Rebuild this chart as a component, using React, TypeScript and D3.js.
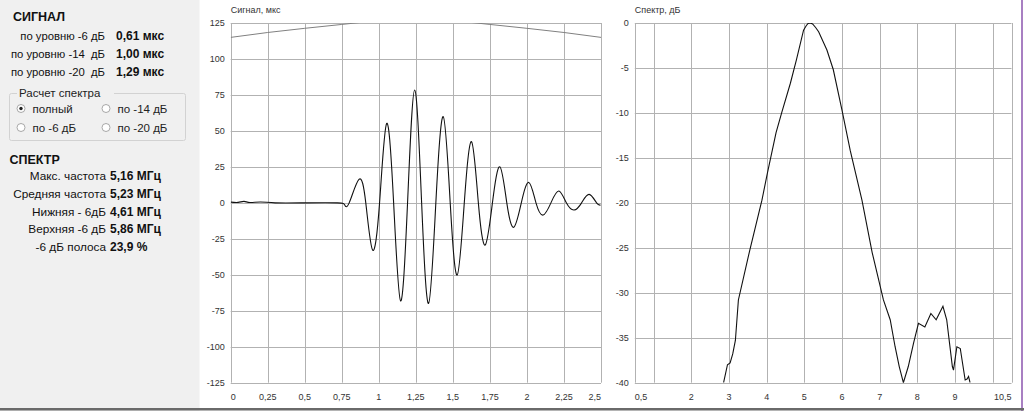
import React from "react";
import * as d3 from "d3";

// ---------- Data ----------
const signalTime = [
  0, 0.05, 0.09, 0.13, 0.2, 0.3, 0.5, 0.72, 0.77, 0.8, 0.866, 0.912, 0.958, 1.005, 1.053, 1.1, 1.147,
  1.194, 1.242, 1.289, 1.336, 1.385, 1.435, 1.482, 1.529, 1.577, 1.626, 1.672, 1.718, 1.767, 1.817,
  1.864, 1.911, 1.962, 2.013, 2.061, 2.109, 2.162, 2.215, 2.266, 2.318, 2.369, 2.42, 2.47, 2.497,
];
const signalValue = [
  0.5, 0.3, 1.0, 0.2, 0.6, 0.0, 0.0, 0.0, -1.5, 0, 16.3, 0, -32.8, 0, 55.2, 0, -68.2,
  0, 78.4, 0, -69.9, 0, 59.9, 0, -50.2, 0, 42.5, 0, -29.3, 0, 25.1,
  0, -17, 0, 14.2, 0, -8.5, 0, 8.2, 0, -5, 0, 5.9, 0, -1.5,
];

const arcTime = [0, 0.25, 0.5, 0.75, 1.0, 1.25, 1.5, 1.75, 2.0, 2.25, 2.5];
const arcValue = [115, 118.4, 121.3, 124.0, 126.5, 127.3, 126.5, 124.0, 121.3, 118.4, 115];

const spectrumFreq = [
  2.857, 2.96, 3.03, 3.1, 3.17, 3.25, 3.55, 3.875, 4.02, 4.25, 4.4, 4.63, 4.79, 4.98, 5.05, 5.1,
  5.16, 5.22, 5.3, 5.38, 5.6, 5.77, 6.0, 6.22, 6.53, 6.8, 7.1, 7.28, 7.41, 7.52, 7.63, 7.76, 7.9,
  8.03, 8.2, 8.36, 8.5, 8.68, 8.78, 8.93, 8.96, 9.05, 9.14, 9.27, 9.32, 9.36, 9.4,
];
const spectrumDb = [
  -40, -38.0, -37.8, -36.8, -35.3, -30.8, -25.3, -19.7, -16.7, -12.2, -9.96, -6.7, -4.1, -0.8, -0.3, -0.05,
  0, -0.1, -0.5, -0.97, -3.0, -5.2, -9.7, -14.2, -19.7, -25.5, -30.8, -33.0, -36, -38.2, -40, -38.2, -35.6,
  -33.4, -33.8, -32.3, -33, -31.5, -33.0, -38.2, -38.6, -36.0, -36.2, -39.7, -39.6, -39.3, -40,
];

const signalXTicks = [0, 0.25, 0.5, 0.75, 1, 1.25, 1.5, 1.75, 2, 2.25, 2.5];
const signalXLabels = ["0", "0,25", "0,5", "0,75", "1", "1,25", "1,5", "1,75", "2", "2,25", "2,5"];
const signalYTicks = [125, 100, 75, 50, 25, 0, -25, -50, -75, -100, -125];

const spectrumXGrid = [1, 2, 3, 4, 5, 6, 7, 8, 9, 10];
const spectrumXLabelValues = [0.5, 2, 3, 4, 5, 6, 7, 8, 9, 10.5];
const spectrumXLabels = ["0,5", "2", "3", "4", "5", "6", "7", "8", "9", "10,5"];
const spectrumYTicks = [0, -5, -10, -15, -20, -25, -30, -35, -40];

const signalRows = [
  ["по уровню -6 дБ", "0,61 мкс"],
  ["по уровню -14  дБ", "1,00 мкс"],
  ["по уровню -20  дБ", "1,29 мкс"],
];
const spectrumRows = [
  ["Макс. частота", "5,16 МГц"],
  ["Средняя частота", "5,23 МГц"],
  ["Нижняя - 6дБ", "4,61 МГц"],
  ["Верхняя -6 дБ", "5,86 МГц"],
  ["-6 дБ полоса", "23,9 %"],
];
const radioOptions = [
  { label: "полный", col: 0, row: 0, checked: true },
  { label: "по -14 дБ", col: 1, row: 0, checked: false },
  { label: "по -6 дБ", col: 0, row: 1, checked: false },
  { label: "по -20 дБ", col: 1, row: 1, checked: false },
];

// ---------- Layout ----------
const W = 1024;
const H = 411;
const plotTop = 23;
const plotBottom = 382.7;
const sig = { left: 230.7, right: 601 };
const spec = { left: 634.8, right: 1011.5 };
const FONT = "'Liberation Sans', Arial, sans-serif";
const GRID = "#b2b2b2";
const TICK = "#333";

function anchorFor(i: number, n: number) {
  if (i === 0) return "start";
  if (i === n - 1) return "end";
  return "middle";
}

export default function App() {
  const sx = d3.scaleLinear().domain([0, 2.5]).range([sig.left, sig.right]);
  const sy = d3.scaleLinear().domain([-125, 125]).range([plotBottom, plotTop]);
  const fx = d3.scaleLinear().domain([0.5, 10.5]).range([spec.left, spec.right]);
  const fy = d3.scaleLinear().domain([-40, 0]).range([plotBottom, plotTop]);

  const sigLine = d3
    .line<number>()
    .x((_, i) => sx(signalTime[i]))
    .y((v) => sy(v))
    .curve(d3.curveNatural);
  const arcLine = d3
    .line<number>()
    .x((_, i) => sx(arcTime[i]))
    .y((v) => sy(v))
    .curve(d3.curveMonotoneX);
  const specLine = d3
    .line<number>()
    .x((_, i) => fx(spectrumFreq[i]))
    .y((v) => fy(v))
    .curve(d3.curveLinear);

  const crisp = (v: number) => Math.round(v) + 0.5;

  return (
    <svg
      width={W}
      height={H}
      style={{ position: "absolute", left: 0, top: 0, fontFamily: FONT }}
    >
      <defs>
        <clipPath id="sigClip">
          <rect x={sig.left} y={plotTop} width={sig.right - sig.left} height={plotBottom - plotTop} />
        </clipPath>
        <clipPath id="specClip">
          <rect x={spec.left} y={plotTop} width={spec.right - spec.left} height={plotBottom - plotTop} />
        </clipPath>
      </defs>
      <rect x={0} y={0} width={W} height={H} fill="#ffffff" />
      <rect x={0} y={0} width={199.5} height={H} fill="#f0f0f0" />

      {/* ---- left info panel ---- */}
      <text x={13} y={21} fontSize={12.5} fontWeight="bold" fill="#111">СИГНАЛ</text>
      {signalRows.map((r, i) => (
        <g key={"sr" + i}>
          <text x={105} y={39.5 + i * 18} fontSize={11.3} textAnchor="end" fill="#111" xmlSpace="preserve">
            {r[0]}
          </text>
          <text x={116} y={39.5 + i * 18} fontSize={12} fontWeight="bold" fill="#111">
            {r[1]}
          </text>
        </g>
      ))}
      <rect x={9.5} y={93.5} width={176} height={47} rx={2} fill="none" stroke="#d2d2d2" />
      <rect x={17} y={88} width={97} height={11} fill="#f0f0f0" />
      <text x={19} y={96.5} fontSize={11.5} fill="#222">Расчет спектра</text>
      {radioOptions.map((o, i) => {
        const cx = o.col === 0 ? 21 : 106;
        const cy = 108.5 + o.row * 19;
        return (
          <g key={"ro" + i}>
            <circle cx={cx} cy={cy} r={4} fill="#fff" stroke="#a8a8a8" />
            {o.checked && <circle cx={cx} cy={cy} r={1.7} fill="#222" />}
            <text x={cx + 11.5} y={cy + 4} fontSize={11.5} fill="#222">{o.label}</text>
          </g>
        );
      })}

      <text x={9.5} y={163.5} fontSize={12.5} fontWeight="bold" fill="#111">СПЕКТР</text>
      {spectrumRows.map((r, i) => (
        <g key={"spr" + i}>
          <text x={106} y={180 + i * 17.75} fontSize={11.8} textAnchor="end" fill="#111">
            {r[0]}
          </text>
          <text x={110} y={180 + i * 17.75} fontSize={12} fontWeight="bold" fill="#111">
            {r[1]}
          </text>
        </g>
      ))}

      {/* ---- signal chart ---- */}
      <text x={sig.left} y={13} fontSize={9} fill={TICK}>Сигнал, мкс</text>
      {signalXTicks.map((t) => (
        <line key={"sgx" + t} x1={crisp(sx(t))} x2={crisp(sx(t))} y1={plotTop} y2={plotBottom} stroke={GRID} />
      ))}
      {signalYTicks.map((t) => (
        <line key={"sgy" + t} x1={sig.left} x2={sig.right} y1={crisp(sy(t))} y2={crisp(sy(t))} stroke={GRID} />
      ))}
      {signalYTicks.map((t) => (
        <text key={"sly" + t} x={sig.left - 6} y={sy(t) + 3.3} fontSize={9} textAnchor="end" fill={TICK}>
          {String(t)}
        </text>
      ))}
      {signalXTicks.map((t, i) => (
        <text
          key={"slx" + t}
          x={sx(t)}
          y={399.5}
          fontSize={9}
          textAnchor={anchorFor(i, signalXTicks.length)}
          fill={TICK}
        >
          {signalXLabels[i]}
        </text>
      ))}
      <g clipPath="url(#sigClip)">
        <path d={arcLine(arcValue) || ""} fill="none" stroke="#808080" strokeWidth={1} />
        <path d={sigLine(signalValue) || ""} fill="none" stroke="#111" strokeWidth={1.1} />
      </g>

      {/* ---- spectrum chart ---- */}
      <text x={spec.left} y={13} fontSize={9} fill={TICK}>Спектр, дБ</text>
      {spectrumXGrid.map((t) => (
        <line key={"fgx" + t} x1={crisp(fx(t))} x2={crisp(fx(t))} y1={plotTop} y2={plotBottom} stroke={GRID} />
      ))}
      <line x1={crisp(fx(0.5))} x2={crisp(fx(0.5))} y1={plotTop} y2={plotBottom} stroke={GRID} />
      <line x1={crisp(fx(10.5))} x2={crisp(fx(10.5))} y1={plotTop} y2={plotBottom} stroke={GRID} />
      {spectrumYTicks.map((t) => (
        <line key={"fgy" + t} x1={spec.left} x2={spec.right} y1={crisp(fy(t))} y2={crisp(fy(t))} stroke={GRID} />
      ))}
      {spectrumYTicks.map((t) => (
        <text key={"fly" + t} x={spec.left - 6} y={fy(t) + 3.3} fontSize={9} textAnchor="end" fill={TICK}>
          {String(t)}
        </text>
      ))}
      {spectrumXLabelValues.map((t, i) => (
        <text
          key={"flx" + t}
          x={fx(t)}
          y={399.5}
          fontSize={9}
          textAnchor={anchorFor(i, spectrumXLabelValues.length)}
          fill={TICK}
        >
          {spectrumXLabels[i]}
        </text>
      ))}
      <g clipPath="url(#specClip)">
        <path d={specLine(spectrumDb) || ""} fill="none" stroke="#111" strokeWidth={1.1} />
      </g>

      {/* ---- window borders ---- */}
      <rect x={1021} y={0} width={2} height={H} fill="#a87fc2" />
      <rect x={0} y={408} width={W} height={2.5} fill="#6a6a6a" />
    </svg>
  );
}
